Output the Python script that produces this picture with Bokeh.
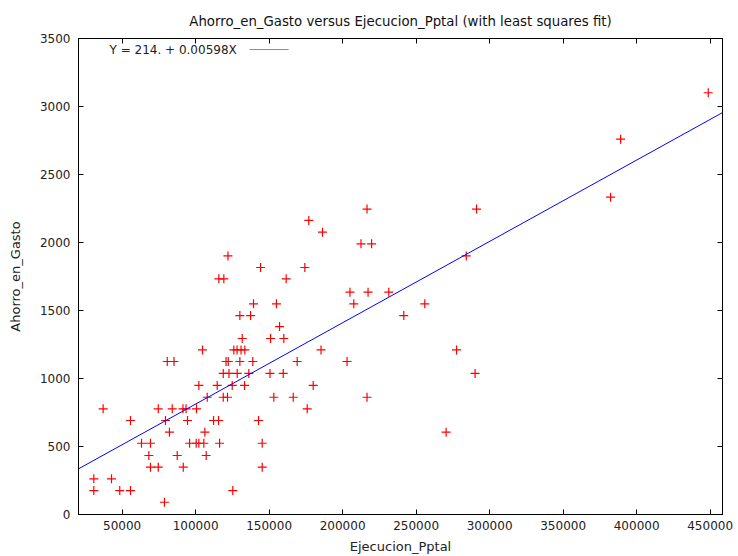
from bokeh.plotting import figure
from bokeh.models import Range1d, LinearAxis, Label, BoxAnnotation, FixedTicker, BasicTickFormatter
from bokeh.embed import file_html
from bokeh.resources import INLINE

# ---- data ----
ejecucion_pptal = [
    78800,
    30750, 48400, 55700, 125300,
    30750, 42800,
    69300, 74600, 91600, 145300,
    68200, 87500, 107200,
    63200, 69300, 95900, 100400, 102200, 105600, 116300, 145300,
    82200, 106300, 270400,
    55700, 79500, 94500, 112200, 115600, 142800,
    37100, 74600, 84100, 91400, 93500, 100600, 175900,
    107900, 118800, 121700, 153200, 166400, 216600,
    102200, 114700, 124900, 133300, 180000,
    118800, 122700, 128300, 136200, 150600, 159600, 290100,
    80700, 85300, 120700, 122200, 130100, 138900, 169100, 203000,
    104700, 126000, 128200, 130900, 133500, 185300, 277500,
    131700, 151000, 160000,
    157100,
    130100, 137400, 241600,
    139400, 155000, 207600, 255900,
    205000, 217300, 231400,
    115800, 119200, 161600,
    144200, 174300,
    122000, 284100,
    212500, 219700,
    186300,
    177000,
    216600, 291100,
    382300,
    389100,
    448700,
]
ahorro_en_gasto = (
    [90] * 1 + [176] * 4 + [262] * 2 + [348] * 4 + [434] * 3 + [524] * 8 +
    [605] * 3 + [691] * 6 + [777] * 7 + [862] * 6 + [949] * 5 + [1037] * 7 +
    [1125] * 8 + [1210] * 7 + [1294] * 3 + [1382] * 1 + [1463] * 3 +
    [1549] * 4 + [1635] * 3 + [1733] * 3 + [1816] * 2 + [1901] * 2 +
    [1990] * 2 + [2076] * 1 + [2162] * 1 + [2246] * 2 + [2333] * 1 +
    [2760] * 1 + [3101] * 1
)

fit_intercept = 214.0
fit_slope = 0.00598
fit_label = "Y = 214. + 0.00598X"

x_ticks = [50000, 100000, 150000, 200000, 250000, 300000, 350000, 400000, 450000]
y_ticks = [0, 500, 1000, 1500, 2000, 2500, 3000, 3500]

x_lo, x_hi = 20340, 458400
y_lo, y_hi = 0, 3500

FONT = "DejaVu Sans"
FS = "12px"

p = figure(width=738, height=556, output_backend="svg", toolbar_location=None,
           x_range=Range1d(x_lo, x_hi), y_range=Range1d(y_lo, y_hi),
           title="Ahorro_en_Gasto versus Ejecucion_Pptal (with least squares fit)",
           min_border_left=78, min_border_right=16, min_border_top=38, min_border_bottom=42)

p.title.align = "center"
p.title.text_font = FONT
p.title.text_font_size = "13.3px"
p.title.text_font_style = "normal"
p.title.text_color = "#111111"
p.title.standoff = 19

p.xgrid.grid_line_color = None
p.ygrid.grid_line_color = None
p.outline_line_color = "black"
p.outline_line_width = 1
p.background_fill_color = "white"
p.border_fill_color = "white"

xticker = FixedTicker(ticks=x_ticks)
yticker = FixedTicker(ticks=y_ticks)

for ax in p.xaxis:
    ax.ticker = xticker
    ax.formatter = BasicTickFormatter(use_scientific=False)
    ax.axis_label = "Ejecucion_Pptal"
    ax.axis_label_standoff = 6
    ax.major_label_standoff = 6
for ax in p.yaxis:
    ax.ticker = yticker
    ax.formatter = BasicTickFormatter(use_scientific=False)
    ax.axis_label = "Ahorro_en_Gasto"
    ax.axis_label_standoff = 14
    ax.major_label_standoff = 8

for ax in list(p.xaxis) + list(p.yaxis):
    ax.major_tick_in = 5
    ax.major_tick_out = 0
    ax.minor_tick_line_color = None
    ax.axis_line_color = "black"
    ax.major_tick_line_color = "black"
    ax.major_label_text_font = FONT
    ax.major_label_text_font_size = FS
    ax.major_label_text_color = "#222222"
    ax.axis_label_text_font = FONT
    ax.axis_label_text_font_size = "13px"
    ax.axis_label_text_font_style = "normal"
    ax.axis_label_text_color = "#222222"

# mirrored tick marks on top and right (gnuplot style), no labels drawn
top_ax = LinearAxis(ticker=xticker, major_label_text_font_size="1px", major_label_text_color=None,
                    major_label_standoff=0, major_tick_in=5, major_tick_out=0,
                    minor_tick_line_color=None, axis_line_color="black")
right_ax = LinearAxis(ticker=yticker, major_label_text_font_size="1px", major_label_text_color=None,
                      major_label_standoff=0, major_tick_in=5, major_tick_out=0,
                      minor_tick_line_color=None, axis_line_color="black")
p.add_layout(top_ax, "above")
p.add_layout(right_ax, "right")

# scatter
p.scatter(ejecucion_pptal, ahorro_en_gasto, marker="cross", size=9,
          line_color="#ff0000", line_width=1.2)

# least squares fit line across the x range
fit_x = [x_lo, x_hi]
fit_y = [fit_intercept + fit_slope * v for v in fit_x]
p.line(fit_x, fit_y, line_color="#0000ff", line_width=1)

# key (gnuplot style: text then sample)
key_y = 3419
p.add_layout(Label(x=41430, y=key_y, text=fit_label, text_baseline="middle",
                   text_font=FONT, text_font_size=FS, text_color="#222222"))
p.add_layout(BoxAnnotation(left=136670, right=163200, top=key_y, bottom=key_y,
                           fill_alpha=0, line_color="#0000ff", line_width=1))

open("out.html", "w").write(file_html(p, INLINE))
